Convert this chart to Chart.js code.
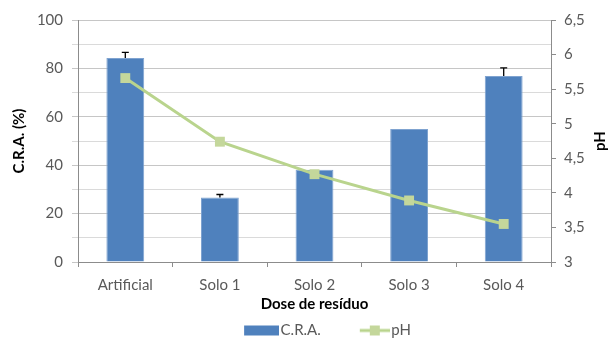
<!DOCTYPE html>
<html>
<head>
<meta charset="utf-8">
<script src="https://cdn.jsdelivr.net/npm/chart.js@4/dist/chart.umd.min.js"></script>
<style>
html,body{margin:0;padding:0;background:#fff;}
#wrap{width:609px;height:341px;position:relative;}
</style>
</head>
<body>
<div id="wrap"><canvas id="c" width="609" height="341"></canvas></div>
<script>
const categories = ['Artificial', 'Solo 1', 'Solo 2', 'Solo 3', 'Solo 4'];
const craValues = [84.3, 26.7, 38.1, 55.0, 76.9];
const craErrors = [2.3, 1.2, 0, 0, 3.3];
const phValues = [5.66, 4.74, 4.27, 3.89, 3.55];
const seriesNames = ['C.R.A.', 'pH'];
const xTitle = 'Dose de resíduo';
const yLeftTitle = 'C.R.A. (%)';
const yRightTitle = 'pH';

const FONT = 'Lato, "Open Sans", sans-serif';
const FS = 15;
const BAR = '#4f81bd';
const GREEN = '#b9d48d';
const GREEN_M = '#c4d79b';
const TICK = '#595959';
const AXIS = '#8c8c8c';

function makeIcon(kind) {
  const c = document.createElement('canvas');
  c.width = 40; c.height = 12;
  const g = c.getContext('2d');
  if (kind === 'bar') {
    g.fillStyle = BAR;
    g.fillRect(5, 1, 35, 10);
  } else {
    g.strokeStyle = GREEN; g.lineWidth = 3;
    g.beginPath(); g.moveTo(10, 6); g.lineTo(40, 6); g.stroke();
    g.fillStyle = GREEN_M;
    g.fillRect(20, 1, 10, 10);
  }
  return c;
}
const icons = [makeIcon('bar'), makeIcon('line')];

const errorBars = {
  id: 'errorBars',
  afterDatasetDraw(chart, args) {
    if (args.index !== 0) return;
    const meta = chart.getDatasetMeta(0);
    const y = chart.scales.y;
    const ctx = chart.ctx;
    ctx.save();
    ctx.strokeStyle = '#000';
    ctx.lineWidth = 1.3;
    meta.data.forEach((el, i) => {
      const e = craErrors[i];
      if (!e) return;
      const top = y.getPixelForValue(craValues[i] + e);
      ctx.beginPath();
      ctx.moveTo(el.x, el.y);
      ctx.lineTo(el.x, top);
      ctx.moveTo(el.x - 3.5, top);
      ctx.lineTo(el.x + 3.5, top);
      ctx.stroke();
    });
    ctx.restore();
  }
};

const rightTitle = {
  id: 'rightTitle',
  afterDraw(chart) {
    const ctx = chart.ctx;
    const a = chart.chartArea;
    ctx.save();
    ctx.translate(600, (a.top + a.bottom) / 2);
    ctx.rotate(-Math.PI / 2);
    ctx.font = 'bold ' + FS + 'px ' + FONT;
    ctx.fillStyle = '#000';
    ctx.textAlign = 'center';
    ctx.textBaseline = 'middle';
    ctx.fillText(yRightTitle, 0, 0);
    ctx.restore();
  }
};

const legendShift = {
  id: 'legendShift',
  afterLayout(chart) {
    const L = chart.legend;
    if (L) {
      L.left += 23.5;
      L.right += 23.5;
      L.top = 288;
      L.bottom = 341;
    }
  }
};

new Chart(document.getElementById('c'), {
  type: 'bar',
  data: {
    labels: categories,
    datasets: [
      {
        type: 'bar',
        label: seriesNames[0],
        data: craValues,
        backgroundColor: BAR,
        borderColor: '#7fa3d0',
        borderWidth: 1,
        barPercentage: 0.4,
        categoryPercentage: 1,
        yAxisID: 'y',
        order: 2
      },
      {
        type: 'line',
        label: seriesNames[1],
        data: phValues,
        borderColor: GREEN,
        borderWidth: 3,
        pointStyle: 'rect',
        pointRadius: 7,
        pointBackgroundColor: GREEN_M,
        pointBorderColor: GREEN_M,
        pointBorderWidth: 0,
        tension: 0,
        yAxisID: 'y1',
        order: 1
      }
    ]
  },
  options: {
    responsive: false,
    animation: false,
    devicePixelRatio: 1,
    layout: { padding: { top: 20, right: 0, left: 0, bottom: 0 } },
    plugins: {
      tooltip: { enabled: false },
      legend: {
        position: 'bottom',
        maxHeight: 28,
        labels: {
          font: { family: FONT, size: FS },
          color: TICK,
          usePointStyle: true,
          pointStyleWidth: 28,
          boxHeight: 10,
          padding: 35,
          generateLabels: () => seriesNames.map((n, i) => ({
            text: n, pointStyle: icons[i], fillStyle: 'transparent',
            strokeStyle: 'transparent', lineWidth: 0, datasetIndex: i, hidden: false, fontColor: TICK
          }))
        }
      }
    },
    scales: {
      x: {
        offset: true,
        afterFit(s) { s.height = 51; },
        grid: { offset: true, drawOnChartArea: false, tickLength: 5, color: AXIS },
        border: { color: AXIS },
        ticks: { font: { family: FONT, size: FS }, color: TICK, padding: 9, maxRotation: 0 },
        title: { display: true, text: xTitle, font: { family: FONT, size: FS, weight: 'bold' }, color: '#000', padding: { top: 0, bottom: 0 } }
      },
      y: {
        position: 'left',
        min: 0, max: 100,
        afterFit(s) { s.width = 78; },
        ticks: {
          stepSize: 10,
          font: { family: FONT, size: FS }, color: TICK, padding: 9,
          callback: (v) => (v % 20 === 0 ? v : '')
        },
        grid: {
          tickLength: 6,
          color: (c) => (c.tick && c.tick.value % 20 === 0 ? '#c6c6c6' : '#dadada'),
          lineWidth: 1
        },
        border: { color: AXIS },
        title: { display: true, text: yLeftTitle, font: { family: FONT, size: FS, weight: 'bold' }, color: '#000', padding: { top: 10, bottom: 0 } }
      },
      y1: {
        position: 'right',
        min: 3, max: 6.5,
        afterFit(s) { s.width = 58; },
        ticks: {
          stepSize: 0.5,
          font: { family: FONT, size: FS }, color: TICK, padding: 8,
          callback: (v) => String(v).replace('.', ',')
        },
        grid: { drawOnChartArea: false, tickLength: 5, color: AXIS },
        border: { color: AXIS }
      }
    }
  },
  plugins: [errorBars, rightTitle, legendShift]
});
</script>
</body>
</html>
